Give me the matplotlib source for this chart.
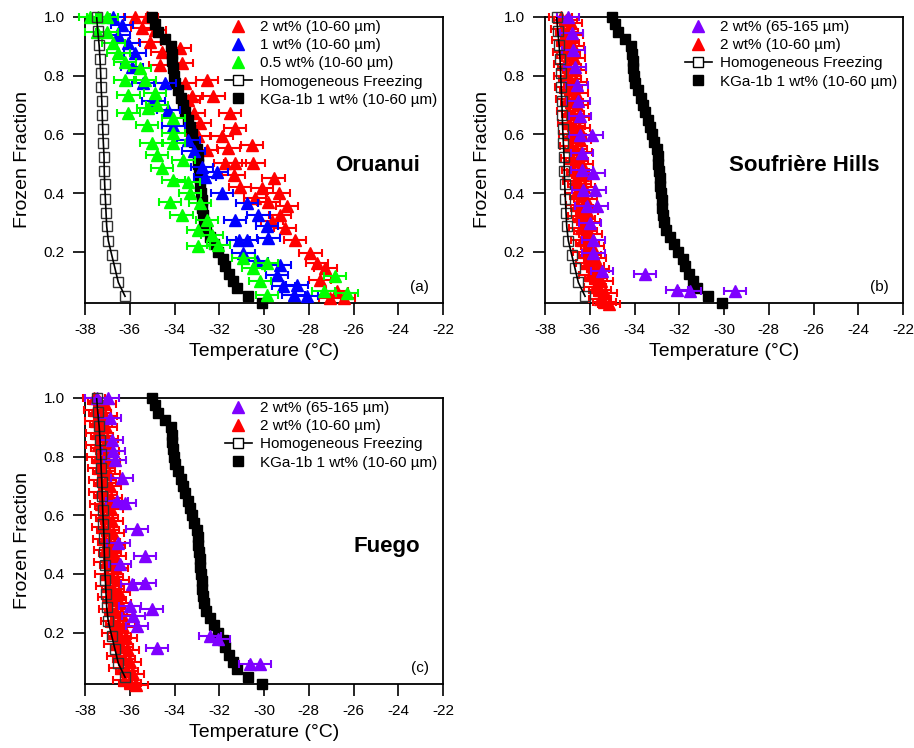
import matplotlib
matplotlib.use('Agg')
import matplotlib.pyplot as plt
from matplotlib.lines import Line2D

plt.rcParams['font.family'] = ['Liberation Sans', 'DejaVu Sans']
plt.rcParams['axes.unicode_minus'] = False

# ---- shared curves ----
homog_T = [-37.48, -37.43, -37.37, -37.33, -37.30, -37.28, -37.25, -37.23, -37.21, -37.18, -37.15,
           -37.14, -37.12, -37.09, -37.06, -37.03, -36.96, -36.81, -36.66, -36.51, -36.21]
homog_f = [1.0, 0.952, 0.905, 0.857, 0.810, 0.762, 0.714, 0.667, 0.619, 0.571, 0.524,
           0.476, 0.429, 0.381, 0.333, 0.286, 0.238, 0.190, 0.143, 0.095, 0.048]

kga_T = [-35.02, -34.87, -34.72, -34.43, -34.17, -34.13, -34.09, -34.06, -34.02, -33.98,
         -33.83, -33.72, -33.62, -33.53, -33.38, -33.30, -33.20, -33.13, -33.01, -32.96,
         -32.93, -32.89, -32.86, -32.84, -32.81, -32.79, -32.77, -32.74, -32.70, -32.59,
         -32.42, -32.25, -32.06, -31.85, -31.74, -31.58, -31.38, -31.20, -30.70, -30.10]
kga_f = [1.0, 0.975, 0.95, 0.925, 0.9, 0.875, 0.85, 0.825, 0.8, 0.775,
         0.75, 0.725, 0.7, 0.675, 0.65, 0.625, 0.6, 0.575, 0.55, 0.525,
         0.5, 0.475, 0.45, 0.425, 0.4, 0.375, 0.35, 0.325, 0.3, 0.275,
         0.25, 0.225, 0.2, 0.175, 0.15, 0.125, 0.1, 0.075, 0.05, 0.025]

# ---- (a) Oruanui ----
oru2_T = [-35.76, -35.24, -35.46, -34.87, -35.09, -34.57, -33.75, -34.64, -33.68, -33.53,
          -32.56, -33.23, -32.26, -33.38, -31.51, -33.15, -32.86, -32.93, -31.89, -31.29,
          -31.59, -30.54, -32.56, -31.74, -31.29, -30.47, -31.36, -29.57, -31.07, -30.10,
          -29.35, -30.39, -29.80, -28.98, -29.28, -29.65, -29.05, -28.61, -27.93, -27.64,
          -27.26, -27.49, -26.74, -27.04, -26.44]
oru2_f = [1.0, 1.0, 0.961, 0.955, 0.916, 0.882, 0.893, 0.837, 0.842, 0.774,
          0.785, 0.729, 0.729, 0.717, 0.672, 0.672, 0.638, 0.593, 0.593, 0.621,
          0.553, 0.564, 0.547, 0.502, 0.502, 0.502, 0.462, 0.451, 0.422, 0.417,
          0.400, 0.383, 0.371, 0.354, 0.326, 0.303, 0.281, 0.241, 0.195, 0.161,
          0.144, 0.105, 0.065, 0.042, 0.042]

oru1_T = [-36.73, -36.36, -36.51, -36.06, -35.76, -35.91, -35.39, -34.42, -34.94, -34.27,
          -34.05, -33.38, -33.15, -32.78, -32.63, -32.11, -31.89, -30.77, -31.29, -30.25,
          -29.87, -31.14, -30.77, -29.80, -30.92, -30.32, -29.28, -29.43, -29.13, -28.53,
          -28.68, -28.08]
oru1_f = [1.0, 0.973, 0.939, 0.910, 0.876, 0.831, 0.774, 0.774, 0.712, 0.683,
          0.627, 0.581, 0.542, 0.490, 0.456, 0.473, 0.400, 0.366, 0.309, 0.326,
          0.286, 0.241, 0.241, 0.247, 0.195, 0.167, 0.156, 0.122, 0.082, 0.088,
          0.054, 0.048]

oru05_T = [-37.78, -37.40, -37.03, -37.48, -37.03, -36.73, -36.51, -36.21, -35.54, -36.21,
           -35.32, -36.06, -34.87, -36.06, -35.17, -34.79, -34.05, -35.24, -34.05, -35.02,
           -34.05, -34.79, -34.57, -33.60, -34.05, -33.38, -34.20, -33.30, -32.86, -33.68,
           -32.56, -32.93, -32.33, -32.93, -32.04, -30.92, -30.47, -29.87, -30.17, -29.87,
           -27.34, -26.82, -26.29]
oru05_f = [1.0, 1.0, 1.0, 0.950, 0.950, 0.910, 0.876, 0.848, 0.825, 0.786,
           0.786, 0.734, 0.740, 0.672, 0.689, 0.700, 0.655, 0.632, 0.604, 0.570,
           0.570, 0.530, 0.485, 0.513, 0.445, 0.439, 0.371, 0.400, 0.366, 0.326,
           0.309, 0.275, 0.258, 0.218, 0.224, 0.178, 0.144, 0.161, 0.099, 0.054,
           0.065, 0.116, 0.059]

# ---- (b) Soufriere Hills ----
sh_big_T = [-36.96, -36.81, -36.73, -36.66, -36.58, -36.51, -36.43, -36.43, -35.91, -36.36,
            -36.36, -35.84, -36.29, -35.76, -36.14, -35.69, -35.99, -35.84, -35.84, -35.46,
            -33.53, -32.11, -31.51, -29.50]
sh_big_f = [1.0, 0.944, 0.888, 0.831, 0.769, 0.712, 0.661, 0.598, 0.598, 0.536,
            0.479, 0.468, 0.411, 0.411, 0.354, 0.354, 0.298, 0.241, 0.195, 0.133,
            0.125, 0.071, 0.065, 0.065]

# three red runs, fractions interleaved
run1_f = [1.0, 0.96, 0.92, 0.88, 0.84, 0.80, 0.76, 0.72, 0.68, 0.64,
          0.60, 0.56, 0.52, 0.48, 0.44, 0.40, 0.36, 0.32, 0.28, 0.24,
          0.20, 0.16, 0.12, 0.08, 0.04]
run2_f = [0.98, 0.94, 0.90, 0.86, 0.82, 0.78, 0.74, 0.70, 0.66, 0.62,
          0.58, 0.54, 0.50, 0.46, 0.42, 0.38, 0.34, 0.30, 0.26, 0.22,
          0.18, 0.14, 0.10, 0.06, 0.02]
run3_f = [0.99, 0.95, 0.91, 0.87, 0.83, 0.79, 0.75, 0.71, 0.67, 0.63,
          0.59, 0.55, 0.51, 0.47, 0.43, 0.39, 0.35, 0.31, 0.27, 0.23,
          0.19, 0.15, 0.11, 0.07, 0.03]

sh_r1_T = [-37.30, -37.25, -37.20, -37.16, -37.12, -37.08, -37.04, -37.00, -36.96, -36.92,
           -36.88, -36.83, -36.78, -36.73, -36.68, -36.62, -36.56, -36.49, -36.41, -36.33,
           -36.23, -36.11, -35.97, -35.78, -35.55]
sh_r2_T = [-36.85, -36.80, -36.76, -36.72, -36.68, -36.64, -36.60, -36.56, -36.52, -36.48,
           -36.44, -36.40, -36.35, -36.30, -36.25, -36.19, -36.12, -36.05, -35.97, -35.88,
           -35.78, -35.64, -35.48, -35.30, -35.15]
sh_r3_T = [-37.08, -37.03, -36.98, -36.95, -36.91, -36.87, -36.83, -36.79, -36.75, -36.71,
           -36.67, -36.62, -36.57, -36.52, -36.46, -36.40, -36.34, -36.27, -36.19, -36.10,
           -36.00, -35.88, -35.73, -35.55, -35.35]

# ---- (c) Fuego ----
fu_big_T = [-37.48, -36.96, -36.88, -36.81, -36.73, -36.66, -36.36, -36.58, -36.21, -35.69,
            -36.51, -35.32, -36.43, -35.91, -35.32, -35.99, -35.02, -35.84, -35.69, -34.79,
            -32.41, -32.04, -30.62, -30.17]
fu_big_f = [1.0, 1.0, 0.932, 0.858, 0.818, 0.790, 0.728, 0.648, 0.643, 0.552,
            0.506, 0.461, 0.433, 0.365, 0.370, 0.291, 0.279, 0.257, 0.222, 0.149,
            0.189, 0.177, 0.092, 0.092]

fu_r1_T = [-37.60, -37.55, -37.51, -37.47, -37.44, -37.41, -37.37, -37.34, -37.31, -37.27,
           -37.24, -37.20, -37.16, -37.12, -37.08, -37.04, -36.99, -36.93, -36.87, -36.80,
           -36.72, -36.63, -36.53, -36.41, -36.27]
fu_r2_T = [-37.12, -37.09, -37.05, -37.02, -36.99, -36.95, -36.92, -36.89, -36.85, -36.82,
           -36.78, -36.74, -36.70, -36.65, -36.60, -36.55, -36.49, -36.43, -36.36, -36.28,
           -36.19, -36.09, -35.98, -35.85, -35.70]
fu_r3_T = [-37.36, -37.32, -37.28, -37.25, -37.21, -37.18, -37.14, -37.11, -37.08, -37.04,
           -37.01, -36.97, -36.93, -36.89, -36.84, -36.79, -36.74, -36.68, -36.61, -36.54,
           -36.45, -36.36, -36.25, -36.12, -35.98]

RED, BLUE, GREEN, PURPLE = '#ff0000', '#0000ff', '#00ff00', '#7f00ff'
xticks = [-38, -36, -34, -32, -30, -28, -26, -24, -22]
yticks = [0.2, 0.4, 0.6, 0.8, 1.0]


def tri(ax, T, f, color, z):
    c = ax.errorbar(T, f, xerr=0.5, fmt='^', color=color, ms=8.5, mec=color,
                    elinewidth=1.5, capsize=2.6, capthick=1.5, zorder=z)
    for a in c.get_children():
        a.set_clip_on(False)


def common(ax):
    ax.plot(kga_T, kga_f, 's', color='k', ms=7.3, zorder=4, clip_on=False)
    ax.plot(homog_T, homog_f, 's', mfc='none', mec='#333333', mew=1.0, ms=7.5,
            zorder=6, clip_on=False)
    ax.plot(homog_T, homog_f, '-', color='k', lw=1.2, zorder=7)


def style(ax, title, tag):
    ax.set_xlim(-38, -22)
    ax.set_ylim(0.025, 1.0)
    ax.set_xticks(xticks)
    ax.set_yticks(yticks)
    ax.set_yticklabels(['0.2', '0.4', '0.6', '0.8', '1.0'])
    ax.tick_params(direction='out', length=8.5, width=1.2, labelsize=11, pad=6,
                   top=False, right=False)
    for s in ax.spines.values():
        s.set_linewidth(1.3)
    ax.set_xlabel('Temperature (°C)', fontsize=14, labelpad=4)
    ax.set_ylabel('Frozen Fraction', fontsize=14, labelpad=9)
    ax.text(0.935, 0.48, title, transform=ax.transAxes, ha='right', va='center',
            fontsize=16, fontweight='bold')
    ax.text(0.96, 0.056, tag, transform=ax.transAxes, ha='right', va='center',
            fontsize=11)


def legend(ax, entries):
    handles = []
    labels = []
    for kind, color, label in entries:
        if kind == 'tri':
            h = Line2D([], [], marker='^', ls='none', color=color, ms=8.5)
        elif kind == 'homog':
            h = Line2D([], [], marker='s', color='k', mfc='white', mec='k', ms=7, lw=1.2)
        else:
            h = Line2D([], [], marker='s', ls='none', color='k', ms=7)
        handles.append(h)
        labels.append(label)
    ax.legend(handles, labels, loc='upper right', frameon=False, fontsize=11,
              handlelength=1.8, handletextpad=0.5, labelspacing=0.27,
              borderaxespad=0.0, bbox_to_anchor=(1.0, 1.01))


fig = plt.figure(figsize=(9.14, 7.48), dpi=100)
ax_a = fig.add_axes([0.0930, 0.5949, 0.3917, 0.3824])
ax_b = fig.add_axes([0.5963, 0.5949, 0.3917, 0.3824])
ax_c = fig.add_axes([0.0930, 0.0856, 0.3917, 0.3824])

# (a)
tri(ax_a, oru2_T, oru2_f, RED, 3)
common(ax_a)
tri(ax_a, oru1_T, oru1_f, BLUE, 5)
tri(ax_a, oru05_T, oru05_f, GREEN, 5.5)
style(ax_a, 'Oruanui', '(a)')
legend(ax_a, [('tri', RED, '2 wt% (10-60 µm)'),
              ('tri', BLUE, '1 wt% (10-60 µm)'),
              ('tri', GREEN, '0.5 wt% (10-60 µm)'),
              ('homog', 'k', 'Homogeneous Freezing'),
              ('sq', 'k', 'KGa-1b 1 wt% (10-60 µm)')])

# (b)
tri(ax_b, sh_r1_T, run1_f, RED, 3)
tri(ax_b, sh_r2_T, run2_f, RED, 3)
tri(ax_b, sh_r3_T, run3_f, RED, 3)
common(ax_b)
tri(ax_b, sh_big_T, sh_big_f, PURPLE, 5)
style(ax_b, 'Soufrière Hills', '(b)')
legend(ax_b, [('tri', PURPLE, '2 wt% (65-165 µm)'),
              ('tri', RED, '2 wt% (10-60 µm)'),
              ('homog', 'k', 'Homogeneous Freezing'),
              ('sq', 'k', 'KGa-1b 1 wt% (10-60 µm)')])

# (c)
tri(ax_c, fu_r1_T, run1_f, RED, 3)
tri(ax_c, fu_r2_T, run2_f, RED, 3)
tri(ax_c, fu_r3_T, run3_f, RED, 3)
common(ax_c)
tri(ax_c, fu_big_T, fu_big_f, PURPLE, 5)
style(ax_c, 'Fuego', '(c)')
legend(ax_c, [('tri', PURPLE, '2 wt% (65-165 µm)'),
              ('tri', RED, '2 wt% (10-60 µm)'),
              ('homog', 'k', 'Homogeneous Freezing'),
              ('sq', 'k', 'KGa-1b 1 wt% (10-60 µm)')])

fig.savefig('out.png', dpi=100)
